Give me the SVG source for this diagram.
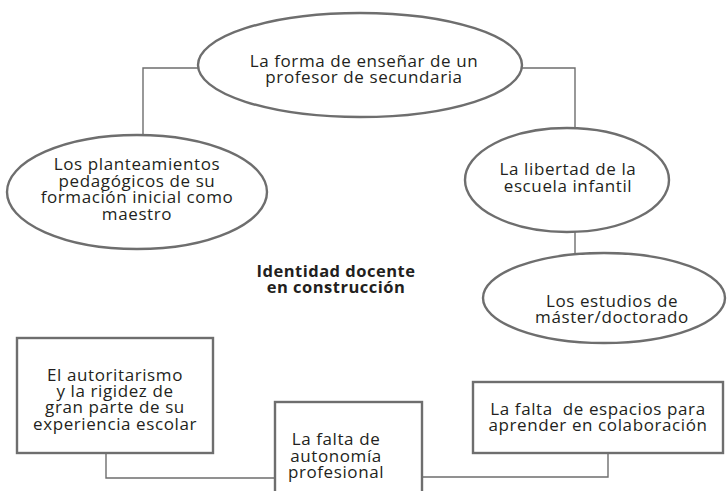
<svg xmlns="http://www.w3.org/2000/svg" width="727" height="491" viewBox="0 0 727 491">
<style>
.shape{fill:#fff;stroke:#6e6e6e;stroke-width:2.4}
.conn{fill:none;stroke:#6e6e6e;stroke-width:1.4}
.t{font-family:"Open Sans","Noto Sans",sans-serif;font-size:17px;letter-spacing:0.6px;fill:#231f20;text-anchor:middle}
.b{font-family:"Open Sans","Noto Sans",sans-serif;font-size:16.5px;letter-spacing:0.5px;font-weight:bold;fill:#231f20;text-anchor:middle}
</style>
<rect width="727" height="491" fill="#fff"/>
<g id="connectors">
<polyline class="conn" points="200,68 143,68 143,136"/>
<polyline class="conn" points="520,68 575,68 575,129"/>
<line class="conn" x1="575" y1="232" x2="575" y2="254"/>
<polyline class="conn" points="106,453 106,478 275,478"/>
<polyline class="conn" points="608,453 608,477 422,477"/>
</g>
<g id="n-forma">
<ellipse class="shape" cx="360" cy="65" rx="162" ry="52"/>
<text class="t" x="364" y="67">La forma de enseñar de un</text>
<text class="t" x="364" y="83">profesor de secundaria</text>
</g>
<g id="n-planteamientos">
<ellipse class="shape" cx="137" cy="192" rx="130" ry="57"/>
<text class="t" x="137" y="170">Los planteamientos</text>
<text class="t" x="137" y="187">pedagógicos de su</text>
<text class="t" x="137" y="203">formación inicial como</text>
<text class="t" x="137" y="220">maestro</text>
</g>
<g id="n-libertad">
<ellipse class="shape" cx="567" cy="180" rx="102" ry="52"/>
<text class="t" x="568" y="175">La libertad de la</text>
<text class="t" x="568" y="192">escuela infantil</text>
</g>
<g id="n-estudios">
<ellipse class="shape" cx="604" cy="298" rx="121" ry="45"/>
<text class="t" x="612" y="307">Los estudios de</text>
<text class="t" x="612" y="323">máster/doctorado</text>
</g>
<g id="n-identidad">
<text class="b" x="336" y="277">Identidad docente</text>
<text class="b" x="336" y="293">en construcción</text>
</g>
<g id="n-autoritarismo">
<rect class="shape" x="17" y="338" width="196" height="115"/>
<text class="t" x="115" y="381">El autoritarismo</text>
<text class="t" x="115" y="397">y la rigidez de</text>
<text class="t" x="115" y="413">gran parte de su</text>
<text class="t" x="115" y="430">experiencia escolar</text>
</g>
<g id="n-autonomia">
<rect class="shape" x="275" y="402" width="147" height="100"/>
<text class="t" x="336" y="445">La falta de</text>
<text class="t" x="336" y="462">autonomía</text>
<text class="t" x="336" y="478">profesional</text>
</g>
<g id="n-espacios">
<rect class="shape" x="473" y="382" width="250" height="71"/>
<text class="t" x="598" y="415" xml:space="preserve">La falta  de espacios para</text>
<text class="t" x="598" y="431">aprender en colaboración</text>
</g>
</svg>
